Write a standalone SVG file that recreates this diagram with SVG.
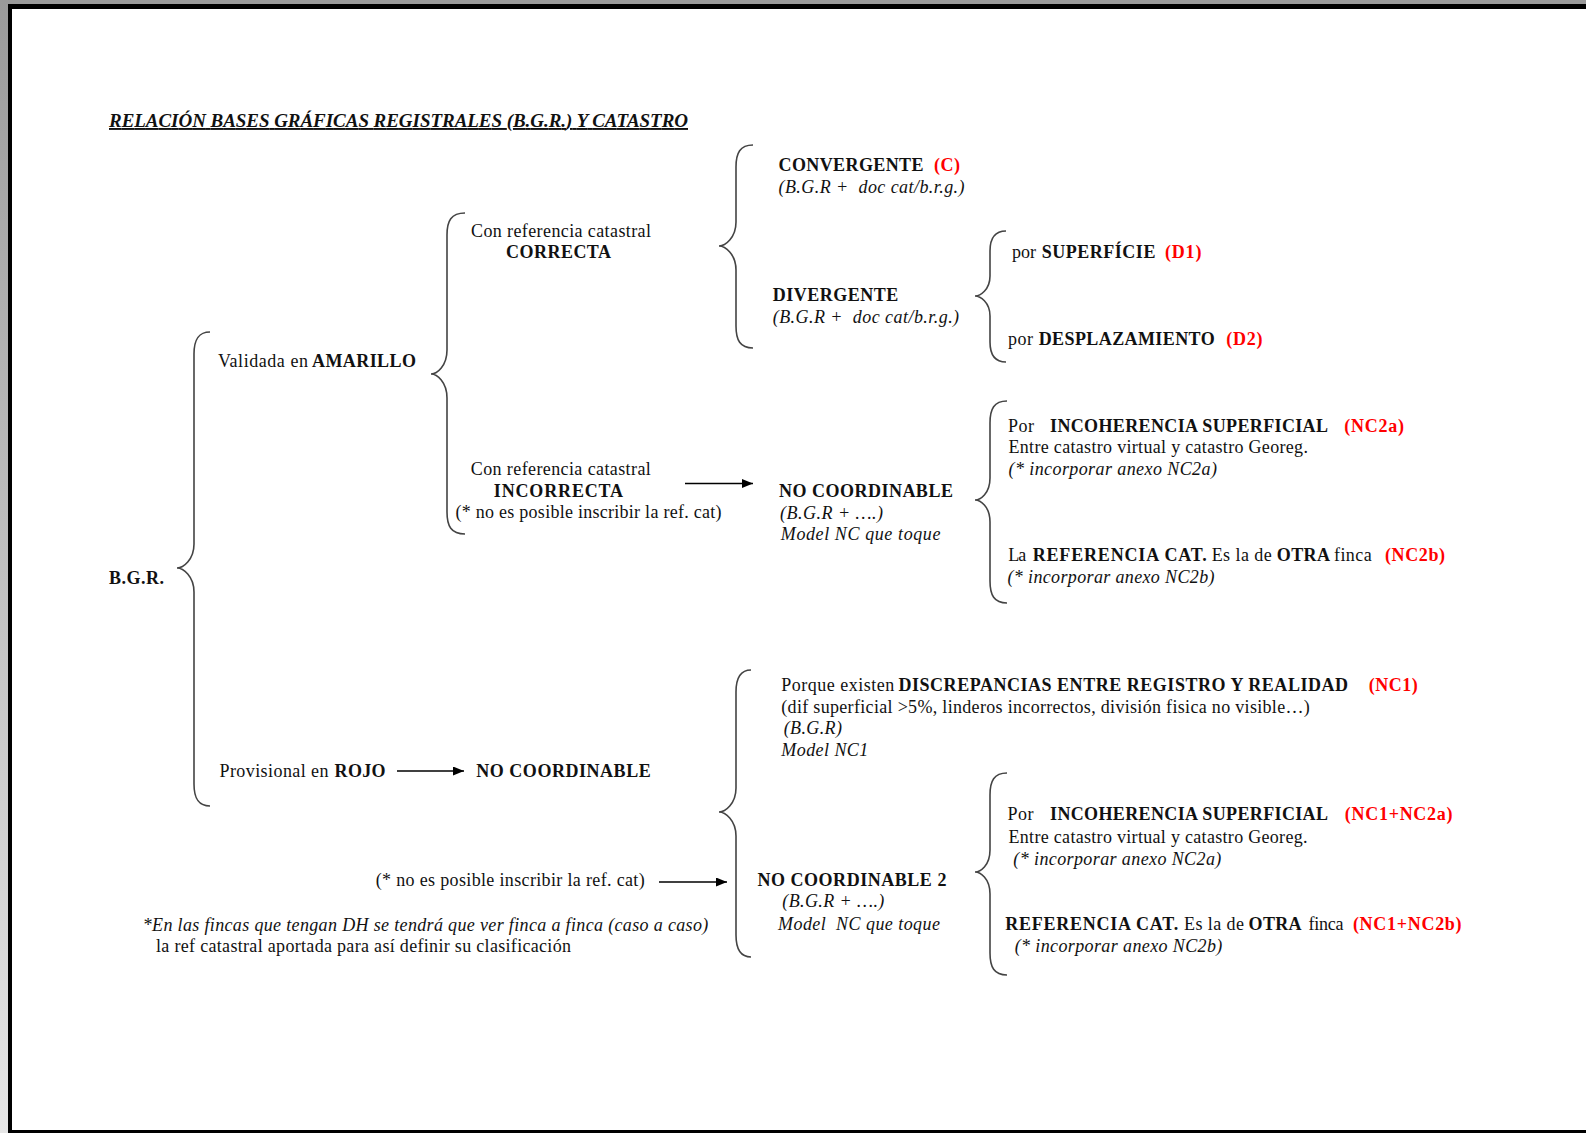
<svg xmlns="http://www.w3.org/2000/svg" width="1586" height="1133" viewBox="0 0 1586 1133">
<defs>
<linearGradient id="gl" x1="0" y1="0" x2="0" y2="1">
<stop offset="0" stop-color="#9a9a9a"/>
<stop offset="1" stop-color="#e6e6e6"/>
</linearGradient>
<marker id="ah" viewBox="0 0 11 9" refX="11" refY="4.5" markerWidth="11" markerHeight="9" markerUnits="userSpaceOnUse" orient="auto">
<path d="M0,0 L11,4.5 L0,9 Z" fill="#000"/>
</marker>
<style>
text{font-family:"Liberation Serif","Times New Roman",serif;font-size:18px;fill:#111;white-space:pre}
.b{font-weight:bold}
.i{font-style:italic}
.red{fill:#ff0000;font-weight:bold}
.title{font-weight:bold;font-style:italic;font-size:19px;text-decoration:underline}
.brace{fill:none;stroke:#444;stroke-width:1.6}
.arrow{stroke:#000;stroke-width:1.6;marker-end:url(#ah)}
</style>
</defs>
<rect x="0" y="0" width="1586" height="1133" fill="#fff"/>
<rect x="0" y="0" width="1586" height="4" fill="#9a9a9a"/>
<rect x="0" y="0" width="8" height="1133" fill="url(#gl)"/>
<rect x="8" y="4" width="1578" height="5" fill="#000"/>
<rect x="8" y="4" width="4" height="1129" fill="#000"/>
<rect x="8" y="1130" width="1578" height="3" fill="#000"/>

<g id="title"><text class="title" x="109" y="127" textLength="579">RELACIÓN BASES GRÁFICAS REGISTRALES (B.G.R.) Y CATASTRO</text></g>

<g id="connectors">
<path id="brace-bgr" class="brace" d="M210,332 C198,332 194,340 194,354 L194,544 C194,560 183,568 177,568 C183,568 194,576 194,592 L194,784 C194,798 198,806 210,806"/>
<path id="brace-amarillo" class="brace" d="M465,213 C451,213 447,221 447,235 L447,350 C447,366 437,374 431,374 C437,374 447,382 447,398 L447,512 C447,526 451,534 465,534"/>
<path id="brace-correcta" class="brace" d="M753,145 C740,145 736,153 736,167 L736,222 C736,238 725,246 719,246 C725,246 736,254 736,270 L736,326 C736,340 740,348 753,348"/>
<path id="brace-divergente" class="brace" d="M1006,231 C994,231 990,239 990,251 L990,276 C990,290 980,296 975,296 C980,296 990,302 990,316 L990,342 C990,354 994,362 1006,362"/>
<path id="brace-nc" class="brace" d="M1007,401 C994,401 990,409 990,423 L990,478 C990,494 980,500 975,500 C980,500 990,506 990,522 L990,581 C990,595 994,603 1007,603"/>
<path id="brace-rojo" class="brace" d="M751,670 C740,670 736,678 736,692 L736,788 C736,804 725,812 719,812 C725,812 736,820 736,836 L736,935 C736,949 740,957 751,957"/>
<path id="brace-nc2" class="brace" d="M1007,773 C994,773 990,781 990,795 L990,850 C990,866 980,872 975,872 C980,872 990,878 990,894 L990,953 C990,967 994,975 1007,975"/>
<line class="arrow" x1="685" y1="483.5" x2="753" y2="483.5"/>
<line class="arrow" x1="397" y1="771" x2="464" y2="771"/>
<line class="arrow" x1="659" y1="882" x2="727" y2="882"/>
</g>

<g id="n-bgr"><text class="b" x="109" y="584" textLength="55">B.G.R.</text></g>

<g id="n-amarillo"><text x="218" y="367" textLength="90">Validada en</text><text class="b" x="312" y="367" textLength="104">AMARILLO</text></g>

<g id="n-correcta"><text x="471" y="237" textLength="180">Con referencia catastral</text><text class="b" x="506" y="258" textLength="105">CORRECTA</text></g>

<g id="n-convergente"><text class="b" x="778.5" y="171" textLength="145">CONVERGENTE</text><text class="red" x="934" y="171" textLength="26">(C)</text><text class="i" x="778.5" y="193" textLength="186">(B.G.R +  doc cat/b.r.g.)</text></g>

<g id="n-divergente"><text class="b" x="772.7" y="301" textLength="125.5">DIVERGENTE</text><text class="i" x="772.7" y="323" textLength="186.4">(B.G.R +  doc cat/b.r.g.)</text></g>

<g id="n-d1"><text x="1012" y="258" textLength="24">por</text><text class="b" x="1041.7" y="258" textLength="113.7">SUPERFÍCIE</text><text class="red" x="1165" y="258" textLength="36.4">(D1)</text></g>

<g id="n-d2"><text x="1008" y="345" textLength="25">por</text><text class="b" x="1038.7" y="345" textLength="176">DESPLAZAMIENTO</text><text class="red" x="1226.2" y="345" textLength="36.4">(D2)</text></g>

<g id="n-incorrecta"><text x="470.8" y="475" textLength="180">Con referencia catastral</text><text class="b" x="493.8" y="497" textLength="129.3">INCORRECTA</text><text x="455.5" y="518" textLength="266">(* no es posible inscribir la ref. cat)</text></g>

<g id="n-nocoordinable"><text class="b" x="778.9" y="497" textLength="174">NO COORDINABLE</text><text class="i" x="780" y="519" textLength="103">(B.G.R + ….)</text><text class="i" x="780.8" y="540" textLength="159.6">Model NC que toque</text></g>

<g id="n-nc2a"><text x="1008" y="432" textLength="26">Por</text><text class="b" x="1050" y="432" textLength="278">INCOHERENCIA SUPERFICIAL</text><text class="red" x="1344.3" y="432" textLength="59.7">(NC2a)</text><text x="1008.5" y="453" textLength="299.4">Entre catastro virtual y catastro Georeg.</text><text class="i" x="1008.5" y="475" textLength="208.4">(* incorporar anexo NC2a)</text></g>

<g id="n-nc2b"><text x="1008.3" y="561" textLength="18">La</text><text class="b" x="1032.7" y="561" textLength="174">REFERENCIA CAT.</text><text x="1211.7" y="561" textLength="60">Es la de</text><text class="b" x="1276.7" y="561" textLength="53.3">OTRA</text><text x="1334" y="561" textLength="37.7">finca</text><text class="red" x="1385" y="561" textLength="60">(NC2b)</text><text class="i" x="1007.5" y="583" textLength="207">(* incorporar anexo NC2b)</text></g>

<g id="n-nc1"><text x="781.3" y="691" textLength="113">Porque existen</text><text class="b" x="898.5" y="691" textLength="449.5">DISCREPANCIAS ENTRE REGISTRO Y REALIDAD</text><text class="red" x="1368.7" y="691" textLength="49">(NC1)</text><text x="781.3" y="713" textLength="528.5">(dif superficial &gt;5%, linderos incorrectos, división fisica no visible…)</text><text class="i" x="783.7" y="734" textLength="58.3">(B.G.R)</text><text class="i" x="781.3" y="755.5" textLength="87">Model NC1</text></g>

<g id="n-rojo"><text x="219.5" y="777" textLength="109">Provisional en</text><text class="b" x="334.6" y="777" textLength="51">ROJO</text></g>

<g id="n-nocoordinable-rojo"><text class="b" x="476.2" y="777" textLength="174.5">NO COORDINABLE</text></g>

<g id="n-noposible"><text x="375.7" y="886" textLength="269">(* no es posible inscribir la ref. cat)</text></g>

<g id="n-nocoordinable2"><text class="b" x="757.4" y="886" textLength="189">NO COORDINABLE 2</text><text class="i" x="782.3" y="907" textLength="102">(B.G.R + ….)</text><text class="i" x="778" y="929.5" textLength="162">Model  NC que toque</text></g>

<g id="n-nc1nc2a"><text x="1007.6" y="820" textLength="26">Por</text><text class="b" x="1050" y="820" textLength="278">INCOHERENCIA SUPERFICIAL</text><text class="red" x="1344.8" y="820" textLength="107.7">(NC1+NC2a)</text><text x="1008.5" y="842.5" textLength="299">Entre catastro virtual y catastro Georeg.</text><text class="i" x="1013.3" y="865" textLength="208">(* incorporar anexo NC2a)</text></g>

<g id="n-nc1nc2b"><text class="b" x="1005.2" y="929.5" textLength="173">REFERENCIA CAT.</text><text x="1184" y="929.5" textLength="60">Es la de</text><text class="b" x="1248.6" y="929.5" textLength="53">OTRA</text><text x="1308.4" y="929.5" textLength="35">finca</text><text class="red" x="1352.9" y="929.5" textLength="108.7">(NC1+NC2b)</text><text class="i" x="1014.7" y="952" textLength="207.6">(* incorporar anexo NC2b)</text></g>

<g id="n-note"><text class="i" x="142.7" y="930.5" textLength="565.6">*En las fincas que tengan DH se tendrá que ver finca a finca (caso a caso)</text><text x="156" y="952" textLength="415">la ref catastral aportada para así definir su clasificación</text></g>
</svg>
